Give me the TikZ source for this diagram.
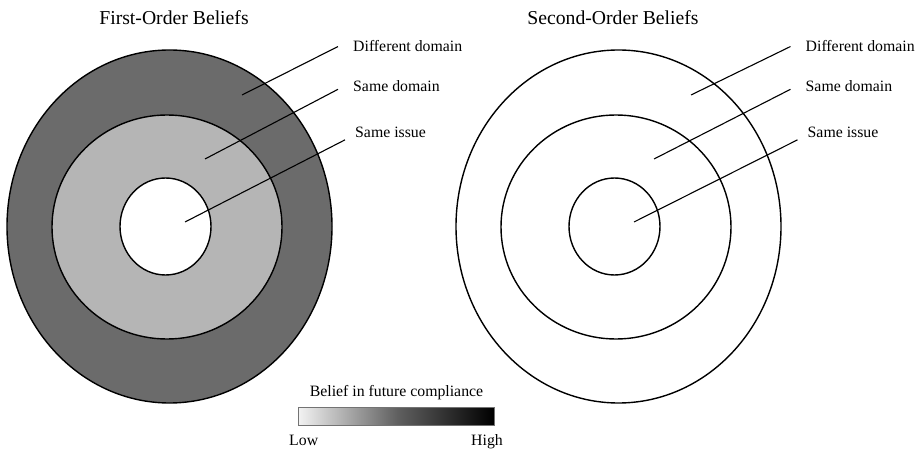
\documentclass[tikz,border=0pt]{standalone}
\usepackage{fontspec}
\setmainfont{Liberation Serif}
\usetikzlibrary{positioning}

\definecolor{ringdark}{gray}{0.42}
\definecolor{ringlight}{gray}{0.71}

\tikzset{
  ring/.style={draw=black, line width=1.4pt},
  pointer/.style={draw=black, line width=1.1pt},
  lbl/.style={inner sep=0pt, font=\fontsize{15.8}{19}\selectfont},
  ttl/.style={inner sep=0pt, font=\fontsize{19.7}{23}\selectfont},
}

\begin{document}
\begin{tikzpicture}[x=1pt, y=-1pt]
  \useasboundingbox (0,0) rectangle (924,449);

  % panel / x offset / title x / title / outer fill / middle fill / label offset
  \foreach \p/\dx/\tx/\ttext/\fo/\fm/\lx in {L/0/174/First-Order Beliefs/ringdark/ringlight/0,
      R/449/613/Second-Order Beliefs/white/white/3.5} {
    \node[ttl, anchor=base] (\p-title) at (\tx,25) {\ttext};
    \begin{scope}[xshift=\dx]
      \path[ring, fill=\fo] (169.5,226.5) ellipse [x radius=162.5, y radius=176.5];
      \path[ring, fill=\fm] (167,227) ellipse [x radius=115, y radius=112];
      \path[ring, fill=white] (165.5,226.5) ellipse [x radius=45.5, y radius=48.5];

      \foreach \k/\tipx/\tipy/\labx/\laby/\gap/\dy/\txt in {
          dd/242/95/353/52/15/0/Different domain,
          sd/205/159/353/91.7/15/-3/Same domain,
          si/185/222/355/138/10/-7/Same issue} {
        \coordinate (\p-\k-tip) at (\tipx,\tipy);
        \node[lbl, anchor=base west] (\p-\k) at (\labx+\lx,\laby) {\txt};
        \draw[pointer] (\p-\k-tip) -- ([xshift=-\gap pt, yshift=\dy pt]\p-\k.west);
      }
    \end{scope}
  }

  % colour key
  \node[lbl, anchor=base] (key-title) at (396.5,396) {Belief in future compliance};
  \node[draw=black!55, line width=0.9pt, left color=black!5, right color=black,
        middle color=black!62, minimum width=196pt, minimum height=18pt, inner sep=0pt,
        anchor=north west] (key-bar) at (298,407) {};
  \node[lbl, anchor=base west] (key-low) at (289,445) {Low};
  \node[lbl, anchor=base east] (key-high) at (503,445) {High};
\end{tikzpicture}
\end{document}
